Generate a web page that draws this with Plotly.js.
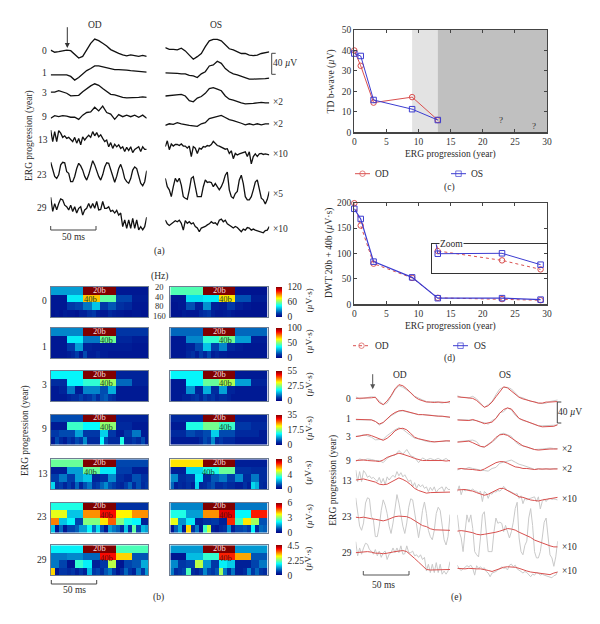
<!DOCTYPE html>
<html><head><meta charset="utf-8">
<script src="https://cdn.plot.ly/plotly-3.0.1.min.js"></script>
<style>html,body{margin:0;padding:0;background:#fff}#g{width:600px;height:624px}</style>
</head><body><div id="g"></div>
<script>
// ---------- DATA ----------
const years = ['0','1','3','9','13','23','29'];
// Panel (a): raw ERG waveforms, microvolts as displayed
const odRaw0 = [3,-1,0,1,3,2,-6,-12,-9,3,16,24,21,16,11,4,0,-3,-6,-8,-6,-8,-9,-7,-9];
const odRaw1 = [-1,-1,-1,-1,-1,-4,-11,-6,1,7,11,16,16,14,13,10,9,9,9,8,7,6,6,5,4];
const odRaw3 = [1,1,4,1,-1,-6,-6,-5,2,8,13,17,14,8,3,-3,-4,-7,-9,-10,-10,-9,-9,-8,-9];
const odRaw9 = [-3,2,0,2,1,-1,-1,-5,3,8,9,18,11,20,8,5,-5,4,0,3,0,3,-1,3,-3];
const odRaw13 = [19,-3,16,-3,18,13,5,8,3,5,1,-3,5,-6,3,-9,6,0,5,9,5,16,8,14,6,10,3,-3,0,-13,-5,-16,-8,-13,-9,-16,-13,-22,-14,-20,-13,-24,-18,-16,-13,-22,-13,-18,-18];
const odRaw23 = [18,3,-9,-13,-6,13,18,17,0,-3,-19,-19,-9,6,16,11,3,-9,-16,-6,9,21,13,0,-9,-16,-6,9,17,16,3,-6,-20,-9,6,14,3,-13,-19,-22,-13,3,9,6,-9,-22,-27,-19,2];
const odRaw29 = [21,-6,9,-3,9,18,16,6,3,-3,6,-6,3,-9,0,3,-13,-3,0,9,0,9,0,13,-3,-2,13,0,0,3,-6,-4,-9,-4,-13,-9,-35,-22,-38,-22,-38,-19,-38,-22,-41,-35,-41,-35,-17];
const osRaw0 = [3,0,0,-1,2,-3,-11,-19,-14,-8,5,16,19,19,16,8,1,-1,-4,-8,-8,-11,-12,-11,-8,-6,-5];
const osRaw1 = [1,1,0,0,-1,-1,-4,-5,-8,-1,3,14,16,23,19,9,3,-1,-3,-6,-9,-11,-11,-11,-11,-10,-9];
const osRaw3 = [0,1,1,2,3,0,-9,-11,-4,-1,5,14,16,13,10,0,-6,-8,-11,-13,-15,-15,-14,-13,-12,-13,-13];
const osRaw9 = [-2,1,0,3,1,-1,-2,-3,-4,1,3,11,13,14,17,13,9,7,5,2,-1,1,-1,1,-1,1,1];
const osRaw13 = [-3,8,-9,2,-2,1,1,-1,2,-2,-2,-6,-2,-22,-3,-6,-16,-6,-8,-3,-4,-1,-2,1,7,2,-1,-2,-4,-6,-8,-7,-16,-11,-26,-16,-19,-17,-16,-14,-13,-22,-13,-36,-22,-17,-22,-17,-16,-18,-17,-18,-19];
const osRaw23 = [16,0,-6,-19,0,16,9,16,3,-19,-22,-24,-6,16,19,0,-19,-19,-19,0,13,8,9,8,0,6,0,-6,0,9,22,28,-6,-19,-22,-13,-9,13,22,6,-19,-25,-25,-19,-6,9,13,-6,-22,-25,-33,-24,-9];
const osRaw29 = [6,-1,-4,-1,1,5,3,6,0,-13,5,0,3,-1,1,-6,-9,-16,-9,-8,-6,-3,-1,3,0,1,-3,6,8,3,6,-1,-3,-6,-9,-6,-8,-13,-16,-11,-13,-8,-9,-13,-11,-13,-14,-16,-16,-18,-14,-13,-6];
// Panel (e): denoised waveforms, microvolts as displayed
const odFit0 = [0,0,0,0,1,2,-8,-12,-5,5,18,26,24,18,10,3,-2,-5,-7,-7,-8,-7,-8,-8,-6];
const odFit1 = [0,0,0,-1,-1,-4,-9,-6,2,8,13,16,17,15,13,11,9,9,8,8,7,6,6,5,4];
const odFit3 = [0,1,3,4,2,-1,-5,-7,-3,3,11,15,16,13,6,-1,-4,-6,-8,-9,-10,-9,-8,-8,-8];
const odFit9 = [-1,0,0,-1,-1,-2,-3,0,5,8,11,13,11,9,6,3,1,-1,-1,-1,0,-1,-1,-2,-1];
const odFit13 = [0,1,2,0,-2,-4,-8,-9,-8,-4,1,4,1,-3,-9,-16,-20,-23,-25,-24,-24,-23,-23,-23,-23];
const odFit23 = [-1,-2,-1,-3,-4,-5,-6,-8,-6,-3,0,1,1,0,-3,-8,-13,-17,-19,-23,-25,-25,-26,-26,-26];
const odFit29 = [0,1,2,2,1,-1,-1,-2,-1,1,2,3,4,2,-4,-11,-18,-26,-32,-33,-33,-33,-33,-32,-32];
const osFit0 = [1,0,-1,-1,-2,-6,-13,-19,-16,-9,1,11,20,18,12,5,0,-3,-5,-8,-10,-11,-11,-9,-9,-8,-8];
const osFit1 = [0,0,-1,-1,1,-1,-4,-7,-6,-4,3,13,20,23,21,13,3,0,-3,-6,-9,-11,-13,-13,-13,-12,-9];
const osFit3 = [-1,0,0,1,-2,-5,-9,-10,-6,0,8,13,14,12,7,2,-4,-8,-10,-13,-15,-16,-15,-14,-14,-14,-14];
const osFit9 = [0,1,0,0,-1,-2,-3,0,4,8,12,14,14,11,7,4,3,1,1,0,-1,0,0,-1,0,0,0];
const osFit13 = [0,0,1,-1,-2,-5,-8,-10,-8,-4,0,3,3,-1,-5,-8,-13,-14,-17,-19,-20,-21,-19,-18,-16,-15,-14];
const osFit23 = [1,2,1,0,-2,-5,-6,-5,-4,-3,-1,1,4,6,5,3,-1,-4,-8,-11,-16,-19,-22,-24,-27,-29,-29];
const osFit29 = [0,-1,-1,0,-1,-1,-1,-2,-4,-6,-3,-1,2,3,3,2,0,-3,-5,-7,-8,-8,-9,-11,-12,-9,-7];
// Panel (e) shows year 23 raw traces at twice the display gain of panel (a)
const rawGainE = [1,1,1,1,1,2,1];

// Panel (b): DWT scalograms, one list per frequency band (20, 40, 80, 160 Hz), uV*s
const heatMax = [120,100,55,35,8,6,4.5];
const heatTicks = [[0,60,120],[0,50,100],[0,27.5,55],[0,17.5,35],[0,4,8],[0,3,6],[0,2.25,4.5]];
const bandLabels = ['20','40','80','160'];
const heatOD = [
 [[30,120,6],[6,42,82,56,16,7],[6,6,14,16,24,36,14,19,12,10,6,6],[5,6,5,7,6,6,5,8,8,12,14,8,6,6,10,8,7,6,5,5,6,6,5,5]],
 [[22,100,11],[5,35,20,48,8,6],[5,5,12,25,7,6,6,6,6,6,5,5],[5,5,5,5,6,8,12,5,14,6,6,8,6,6,5,5,5,5,5,5,5,5,5,5]],
 [[20,55,4],[5,20,23,29,10,4],[3,4,11,3,12,12,8,15,3,3,3,3],[3,3,3,3,4,5,5,7,5,6,8,5,8,9,6,5,3,3,3,3,3,3,3,3]],
 [[5,35,2.5],[2,15,13,18,3,2],[4,5,5,9,4,4,11,4,2,4,7,2],[2,5,3,2,4,3,5,4,8,3,3,3,13,5,3,3,3,14,3,3,4,3,5,2]],
 [[3.8,8,1.1],[.5,2,3.8,2.8,1,.5],[1,1.6,1,2,2.4,.6,.8,1.8,.8,.6,1.2,.8],[2.6,.8,1,.6,1,.6,1.4,.6,1.2,1.6,.8,1,1.4,1.8,1.2,1,.7,.6,1,1.4,.7,1.2,.7,.9]],
 [[2.4,6,.6],[3.6,1.8,4.4,5.2,3.8,4.4],[4.5,1.8,2.2,.8,3,3,3.9,4.7,3,2.4,2.2,.4],[1.8,.3,1.1,.3,.8,.8,1,1.5,1.5,2.2,1.1,2,.9,.3,1.5,1.2,1,.5,1.8,.6,2.8,.8,1.7,1.5]],
 [[1.6,4.5,2],[.9,1,.8,3.9,3,.7],[.9,.6,.2,1.9,1.6,.3,.5,2.5,.2,.6,.7,1.2],[3,.2,.5,.5,.4,.5,.3,.5,.3,1.3,.5,.6,.4,.7,.9,.5,.2,.4,.8,.5,.3,.9,.5,1.1]]
];
const heatOS = [
 [[54,120,5],[6,40,42,78,18,7],[5,6,18,8,28,8,7,14,8,6,5,5],[5,5,5,7,6,6,6,10,12,14,8,6,6,7,8,6,5,5,5,5,5,5,5,5]],
 [[18,100,18],[5,22,42,48,25,6],[5,5,7,14,30,13,22,8,6,5,5,5],[5,5,5,5,8,10,6,12,8,14,6,8,6,6,5,5,5,5,5,5,5,5,5,5]],
 [[20,55,3],[3,20,26,30,14,4],[3,3,13,4,15,5,14,4,3,3,3,3],[3,3,3,4,4,5,6,4,7,5,6,4,5,5,4,3,3,3,3,3,3,3,3,3]],
 [[3,35,2.5],[2,14,17,15,4,3],[3,3,5,4,5,11,5,5,3,3,3,2],[2,2,2,2,2,2,2,3,5,4,8,3,4,3,3,3,2,2,2,2,2,2,2,2]],
 [[5.2,8,.5],[.5,2.6,3.2,3.8,.8,.7],[1.8,.7,.9,2.8,.7,1.3,1.6,1,1.8,.7,1.6,.7],[1.4,.5,.7,.6,.8,.5,2.6,.6,.7,1,1.2,.7,.7,.9,.7,.7,.5,.5,.8,.5,2.6,2.2,.7,.6]],
 [[1.3,6,1.2],[2.4,1.5,4.4,5.4,2.2,5.1],[3.6,1.4,2.1,.4,.6,.7,.4,5,2.6,3.9,3.2,.9],[.3,1,1.6,.3,4,.6,1.2,.3,2.6,3.4,.4,.3,.5,.6,1.4,.4,.8,.8,.9,.7,2.2,.5,1.1,1]],
 [[1.1,4.5,1.1],[.2,1.3,1.9,3.8,3.2,.7],[1,.5,.6,2.5,1.1,.5,1.6,1.4,.3,.3,.6,.9],[.9,.4,.5,.6,2,.4,.3,.5,1,.6,.5,.7,2.4,.9,.4,.9,.3,.3,.4,1,.5,.8,.5,.4]]
];
// column (0-24 scale) of the "40b" label
const label40OD = [9.7,13.8,13.8,13.8,9.7,13.8,13.8];
const label40OS = [13.6,13.6,13.6,13.6,9.5,13.6,13.6];

// Panel (c)
const tdYears = [0,1,3,9,13];
const tdOD = [40,32.5,14.5,17.2,6];
const tdOS = [38.5,37.3,15.8,11.3,6];
// Panel (d)
const dwtYears = [0,1,3,9,13,23,29];
const dwtOD = [199,155,80,52,12.7,10.3,8];
const dwtOS = [188,168,84,53,12,12.1,9.2];

// ---------- LAYOUT HELPERS ----------
const W=600,H=624, SERIF='Liberation Serif, Times New Roman, serif', INK='#2b2b2b', FS=9.5;
const RED='#d9504f', BLUE='#3c3cd0';
const px=x=>x/W, py=y=>1-y/H;
const layout={width:W,height:H,margin:{l:0,r:0,t:0,b:0,pad:0},paper_bgcolor:'#fff',plot_bgcolor:'rgba(0,0,0,0)',
  showlegend:false,hovermode:false,font:{family:SERIF,size:FS,color:INK},annotations:[],shapes:[]};
const traces=[];
let axN=0;
function addAxes(x0,x1,y0,y1,xo,yo){
  axN++; const s=axN===1?'':axN;
  layout['xaxis'+s]=Object.assign({domain:[px(x0),px(x1)],anchor:'y'+s,showgrid:false,zeroline:false,fixedrange:true,automargin:false},xo);
  layout['yaxis'+s]=Object.assign({domain:[py(y1),py(y0)],anchor:'x'+s,showgrid:false,zeroline:false,fixedrange:true,automargin:false},yo);
  return {x:'x'+s,y:'y'+s};
}
const HIDE={visible:false};
function T(text,x,y,o){layout.annotations.push(Object.assign({text,x:px(x),y:py(y),xref:'paper',yref:'paper',showarrow:false,xanchor:'center',yanchor:'middle',borderpad:0,font:{family:SERIF,size:FS,color:INK}},o||{}));}
function L(x0,y0,x1,y1,c,w){layout.shapes.push({type:'line',xref:'paper',yref:'paper',x0:px(x0),y0:py(y0),x1:px(x1),y1:py(y1),line:{color:c||'#444',width:w||1}});}
function bar50(x0,x1,y,c){L(x0,y,x1,y,c);L(x0,y-4,x0,y,c);L(x1,y-4,x1,y,c);}
function bracket(x,y0,y1){L(x,y0,x,y1);L(x,y0,x+4,y0);L(x,y1,x+4,y1);}
function arrow(x,y0,y1,c){layout.annotations.push({x:px(x),y:py(y1),ax:px(x),ay:py(y0),xref:'paper',yref:'paper',axref:'paper',ayref:'paper',text:'',showarrow:true,arrowhead:2,arrowsize:1,arrowwidth:1,arrowcolor:c});}

const UV=0.525; // px per uV
function waveAxes(x0,x1,ms,top,bottom){
  return addAxes(x0,x1,top,bottom,Object.assign({range:[0,ms]},HIDE),Object.assign({range:[-(bottom-top)/UV,0]},HIDE));
}
function wave(ax,ms,vals,basePx,top,gain,color,width){
  const off=-(basePx-top)/UV;
  traces.push({type:'scatter',mode:'lines',xaxis:ax.x,yaxis:ax.y,showlegend:false,cliponaxis:false,
    x:vals.map((_,i)=>i*ms/(vals.length-1)),y:vals.map(v=>off+v*gain),
    line:{color,width,shape:'linear'}});
}
const odRaw=[odRaw0,odRaw1,odRaw3,odRaw9,odRaw13,odRaw23,odRaw29];
const osRaw=[osRaw0,osRaw1,osRaw3,osRaw9,osRaw13,osRaw23,osRaw29];
const odFit=[odFit0,odFit1,odFit3,odFit9,odFit13,odFit23,odFit29];
const osFit=[osFit0,osFit1,osFit3,osFit9,osFit13,osFit23,osFit29];

// ---------- PANEL (a) ----------
const aBaseOD=[51.7,74.3,92.7,116.7,140,171.7,208.3], aBaseOS=[49.3,73.3,96,124.3,145,186.7,223.3];
const aOD=waveAxes(50.7,146.7,105,10,250), aOS=waveAxes(165.3,269.3,114,10,250);
years.forEach((y,i)=>{
  wave(aOD,105,odRaw[i],aBaseOD[i],10,1,'#111',1.3);
  wave(aOS,114,osRaw[i],aBaseOS[i],10,1,'#111',1.3);
});
[[0,44.5,51],[1,44.5,73],[3,44.5,92.5],[9,44.5,117],[13,42.5,140],[23,42,175],[29,42,208]].forEach(([_,x,y],i)=>T(years[i],x,y));
T('OD',94.5,25);T('OS',215.5,25);
arrow(67.3,25.7,48,'#333');
bracket(271.7,53.3,74.3);T('40 <i>µ</i>V',284.5,63);
T('×2',277.5,102);T('×2',277.5,124);T('×10',280,154);T('×5',277.5,194);T('×10',280,229);
T('ERG progression (year)',29,136,{textangle:-90});
bar50(50.7,96,230,'#444');T('50 ms',73.5,237);T('(a)',159,251);

// ---------- PANEL (b) ----------
const heatTop=[287,328,371,414.7,459.3,502.7,545.3], heatH=30;
const heatYearY=[301,346.7,385,429,474,517,560];
function expand(bands){return bands.map(b=>b.flatMap(v=>Array(24/b.length).fill(v)));}
function heat(x0,x1,i,bands,col40,scale){
  const ax=addAxes(x0,x1,heatTop[i],heatTop[i]+heatH,
    {range:[0,24],showline:true,mirror:true,linecolor:'#6f7d92',linewidth:1,ticks:'',showticklabels:false},
    {range:[3.5,-0.5],showline:true,mirror:true,linecolor:'#6f7d92',linewidth:1,ticks:'',showticklabels:false});
  const t={type:'heatmap',xaxis:ax.x,yaxis:ax.y,x0:0.5,dx:1,y:[0,1,2,3],z:expand(bands),zmin:0,zmax:heatMax[i],
    colorscale:'Jet',showscale:!!scale,hoverinfo:'skip',zsmooth:false};
  if(scale){t.colorbar={x:px(276.3),xanchor:'left',xref:'paper',y:py(heatTop[i]+heatH/2),yanchor:'middle',yref:'paper',len:heatH/H,lenmode:'fraction',
    thickness:6,thicknessmode:'pixels',outlinewidth:0,borderwidth:0,xpad:0,ypad:0,ticks:'outside',ticklen:4,tickcolor:'rgba(0,0,0,0)',tickvals:heatTicks[i],ticktext:heatTicks[i].map(String),
    tickfont:{family:SERIF,size:FS,color:INK}};}
  traces.push(t);
  const lab=(text,x,y,c,ys)=>layout.annotations.push({text,x,y,xref:ax.x,yref:ax.y,showarrow:false,borderpad:0,yshift:ys,font:{family:SERIF,size:8.5,color:c}});
  lab('20b',12,0,'#f4dcdc',1);
  lab('40b',col40,1,heatMax[i]<=6?'#5a1010':'#12402a',-1);
}
years.forEach((y,i)=>{
  heat(50.7,148.3,i,heatOD[i],label40OD[i],false);
  heat(170.3,267.7,i,heatOS[i],label40OS[i],true);
  T(y,i<4?44.5:(i===4?43:42),heatYearY[i]);
  T('(<i>µ</i>V·s)',308.5,heatTop[i]+heatH/2-1,{textangle:-90,font:{family:SERIF,size:9,color:INK}});
});
T('(Hz)',159,276.7);
bandLabels.forEach((b,i)=>T(b,159,[287,297,306.5,316][i],{font:{family:SERIF,size:8.5,color:INK}}));
T('ERG progression (year)',25,431,{textangle:-90});
bar50(51.3,96.7,584,'#444');T('50 ms',74,590);T('(b)',158.7,597);

// ---------- PANEL (c) ----------
const chartX={showline:true,mirror:'allticks',linecolor:'#444',linewidth:1.2,ticks:'inside',ticklen:3,tickcolor:'#444',tickfont:{family:SERIF,size:FS,color:'#333'},ticklabelstandoff:0};
const c=addAxes(354.3,547,30,132.3,Object.assign({range:[0,30],dtick:5,tick0:0},chartX),Object.assign({range:[0,50],dtick:10,tick0:0},chartX));
layout.shapes.push({type:'rect',xref:c.x,yref:c.y,x0:9,x1:13,y0:0,y1:50,fillcolor:'#e3e3e3',line:{width:0},layer:'below'});
layout.shapes.push({type:'rect',xref:c.x,yref:c.y,x0:13,x1:30,y0:0,y1:50,fillcolor:'#c0c0c0',line:{width:0},layer:'below'});
const mk=(n,ax,x,y,color,sym,dash,w)=>traces.push({type:'scatter',mode:'lines+markers',name:n,xaxis:ax.x,yaxis:ax.y,x,y,cliponaxis:false,showlegend:false,
  line:{color,width:w||1,dash:dash||'solid'},marker:{symbol:sym,size:5.5,color,line:{color,width:1}}});
mk('OD',c,tdYears,tdOD,RED,'circle-open');
mk('OS',c,tdYears,tdOS,BLUE,'square-open');
layout.annotations.push({text:'?',x:22.8,y:6,xref:c.x,yref:c.y,showarrow:false,font:{family:SERIF,size:9,color:'#333'}});
layout.annotations.push({text:'?',x:28,y:3.3,xref:c.x,yref:c.y,showarrow:false,font:{family:SERIF,size:9,color:'#333'}});
T('ERG progression (year)',450,154);
T('TD b-wave (<i>µ</i>V)',331.7,81.7,{textangle:-90});
T('(c)',449.7,187.7);

// ---------- PANEL (d) ----------
const d=addAxes(354.3,547,202.7,304.3,Object.assign({range:[0,30],dtick:5,tick0:0},chartX),Object.assign({range:[0,200],dtick:50,tick0:0},chartX));
mk('OD',d,dwtYears,dwtOD,RED,'circle-open','dot');
mk('OS',d,dwtYears,dwtOS,BLUE,'square-open','solid',1.2);
const insetAx={showline:true,mirror:true,linecolor:'#333',linewidth:1,ticks:'',showticklabels:false};
const zo=addAxes(432.3,547,244.3,273.3,Object.assign({range:[12.15,30]},insetAx),Object.assign({range:[7,14.4]},insetAx));
traces.push({type:'scatter',mode:'lines+markers',xaxis:zo.x,yaxis:zo.y,x:dwtYears,y:dwtOD,showlegend:false,line:{color:RED,width:1,dash:'dot'},marker:{symbol:'circle-open',size:5.5,color:RED,line:{color:RED,width:1}}});
traces.push({type:'scatter',mode:'lines+markers',xaxis:zo.x,yaxis:zo.y,x:dwtYears,y:dwtOS,showlegend:false,line:{color:BLUE,width:1},marker:{symbol:'square-open',size:5.5,color:BLUE,line:{color:BLUE,width:1}}});
T('Zoom',451.7,244,{bgcolor:'#fff'});
T('ERG progression (year)',450,326);
T('DWT 20b + 40b (<i>µ</i>V·s)',329,253,{textangle:-90});
T('(d)',449.5,358);

// legend keys for (c) and (d), in a page-sized axis
const leg=addAxes(0,600,0,624,Object.assign({range:[0,600]},HIDE),Object.assign({range:[624,0]},HIDE));
function key(x0,x1,y,color,sym,dash){traces.push({type:'scatter',mode:'lines+markers',xaxis:leg.x,yaxis:leg.y,showlegend:false,
  x:[x0,(x0+x1)/2,x1],y:[y,y,y],line:{color,width:1,dash:dash||'solid'},
  marker:{symbol:sym,size:[0,5.5,0],color,line:{color,width:1}}});}
key(355,370,173.7,RED,'circle-open');T('OD',382,173.7);
key(451,466,173.7,BLUE,'square-open');T('OS',477.5,173.7);
key(353,370,345.7,RED,'circle-open','dot');T('OD',382,345.7);
key(453,468,345.7,BLUE,'square-open');T('OS',479.5,345.7);

// ---------- PANEL (e) ----------
const eBaseOD=[115,178,230,300,360,470,578].map(z=>360+z/3), eBaseOS=[112,180,245,327,390,515,625].map(z=>360+z/3);
const eOD=waveAxes(355.7,450,103,365,600), eOS=waveAxes(457.3,557.7,110,365,600);
years.forEach((y,i)=>{
  wave(eOD,103,odRaw[i],eBaseOD[i],365,rawGainE[i],'#c9c9c9',1);
  wave(eOS,110,osRaw[i],eBaseOS[i],365,rawGainE[i],'#c9c9c9',1);
});
years.forEach((y,i)=>{
  wave(eOD,103,odFit[i],eBaseOD[i],365,1,'#d8504e',1);
  wave(eOS,110,osFit[i],eBaseOS[i],365,1,'#d8504e',1);
  T(y,i<4?348.7:346.7,[398.7,419,436.7,461,480.7,517,552.7][i]);
});
T('OD',399.7,374.7);T('OS',505.3,374.7);
arrow(372.7,372.7,389.3,'#555');
bracket(557.3,402,423);T('40 <i>µ</i>V',570,412);
T('×2',566.7,449);T('×2',566.7,469);T('×10',569,499);T('×10',569,546.7);T('×10',569,571);
T('ERG progression (year)',332.7,480,{textangle:-90});
bar50(363.3,409,575,'#555');T('50 ms',383.3,585);T('(e)',456.7,597.7);

Plotly.newPlot('g',traces,layout,{displayModeBar:false,staticPlot:true});
</script></body></html>
